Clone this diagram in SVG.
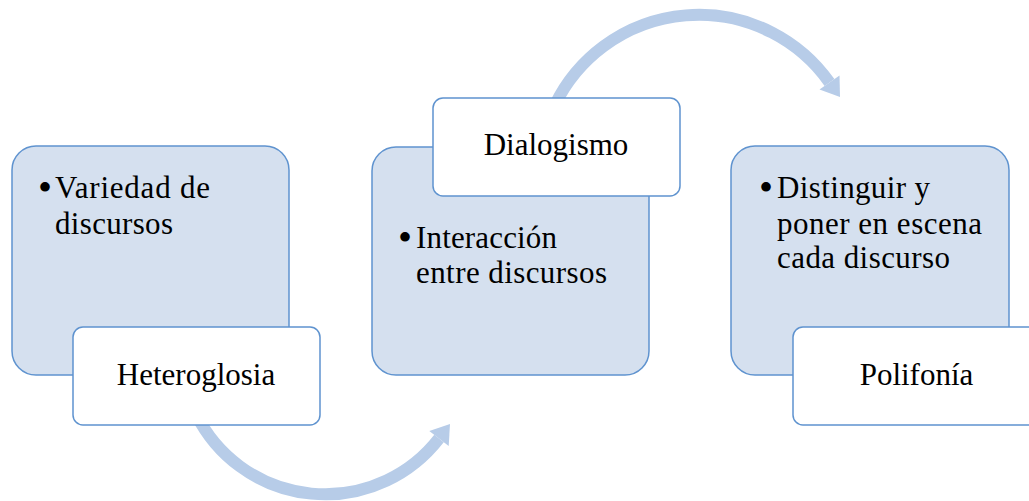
<svg xmlns="http://www.w3.org/2000/svg" width="1029" height="501" viewBox="0 0 1029 501">
<style>
.big{fill:#D5E0EF;stroke:#5F93CF;stroke-width:1.5}
.lab{fill:#FFFFFF;stroke:#5F93CF;stroke-width:1.5}
.arc{fill:none;stroke:#B7CCE8;stroke-width:12}
.head{fill:#B7CCE8}
text{font-family:"Liberation Serif","Times New Roman",serif;font-size:31px;fill:#000}
.c{text-anchor:middle}
.b{font-size:40px}
</style>
<rect width="1029" height="501" fill="#FFFFFF"/>
<g id="connectors">
<path class="arc" d="M196.5,415 A144,144 0 0 0 439,438.5"/>
<polygon class="head" points="450,424 448.7,446 429.3,431"/>
<path class="arc" d="M554.9,105 A160,160 0 0 1 829.5,82.5"/>
<polygon class="head" points="840,97 839.5,75.4 819.5,89.6"/>
</g>
<g id="node-heteroglosia">
<rect class="big" x="12" y="146" width="277" height="229" rx="24"/>
<text class="b" x="38" y="201">•</text>
<text x="55" y="198" textLength="155">Variedad de</text>
<text x="55" y="234" textLength="118">discursos</text>
<rect class="lab" x="73" y="327" width="247" height="98" rx="10"/>
<text class="c" x="196" y="385">Heteroglosia</text>
</g>
<g id="node-dialogismo">
<rect class="big" x="372" y="147" width="277" height="228" rx="24"/>
<text class="b" x="398" y="251">•</text>
<text x="416" y="248" textLength="141">Interacción</text>
<text x="416" y="283" textLength="191">entre discursos</text>
<rect class="lab" x="433" y="98" width="247" height="98" rx="10"/>
<text class="c" x="556" y="155">Dialogismo</text>
</g>
<g id="node-polifonia">
<rect class="big" x="731" y="146" width="278" height="229" rx="24"/>
<text class="b" x="759" y="201">•</text>
<text x="777" y="198" textLength="153">Distinguir y</text>
<text x="777" y="234" textLength="205">poner en escena</text>
<text x="777" y="268" textLength="173">cada discurso</text>
<rect class="lab" x="793" y="327" width="248" height="98" rx="10"/>
<text class="c" x="916.5" y="385">Polifonía</text>
</g>
</svg>
